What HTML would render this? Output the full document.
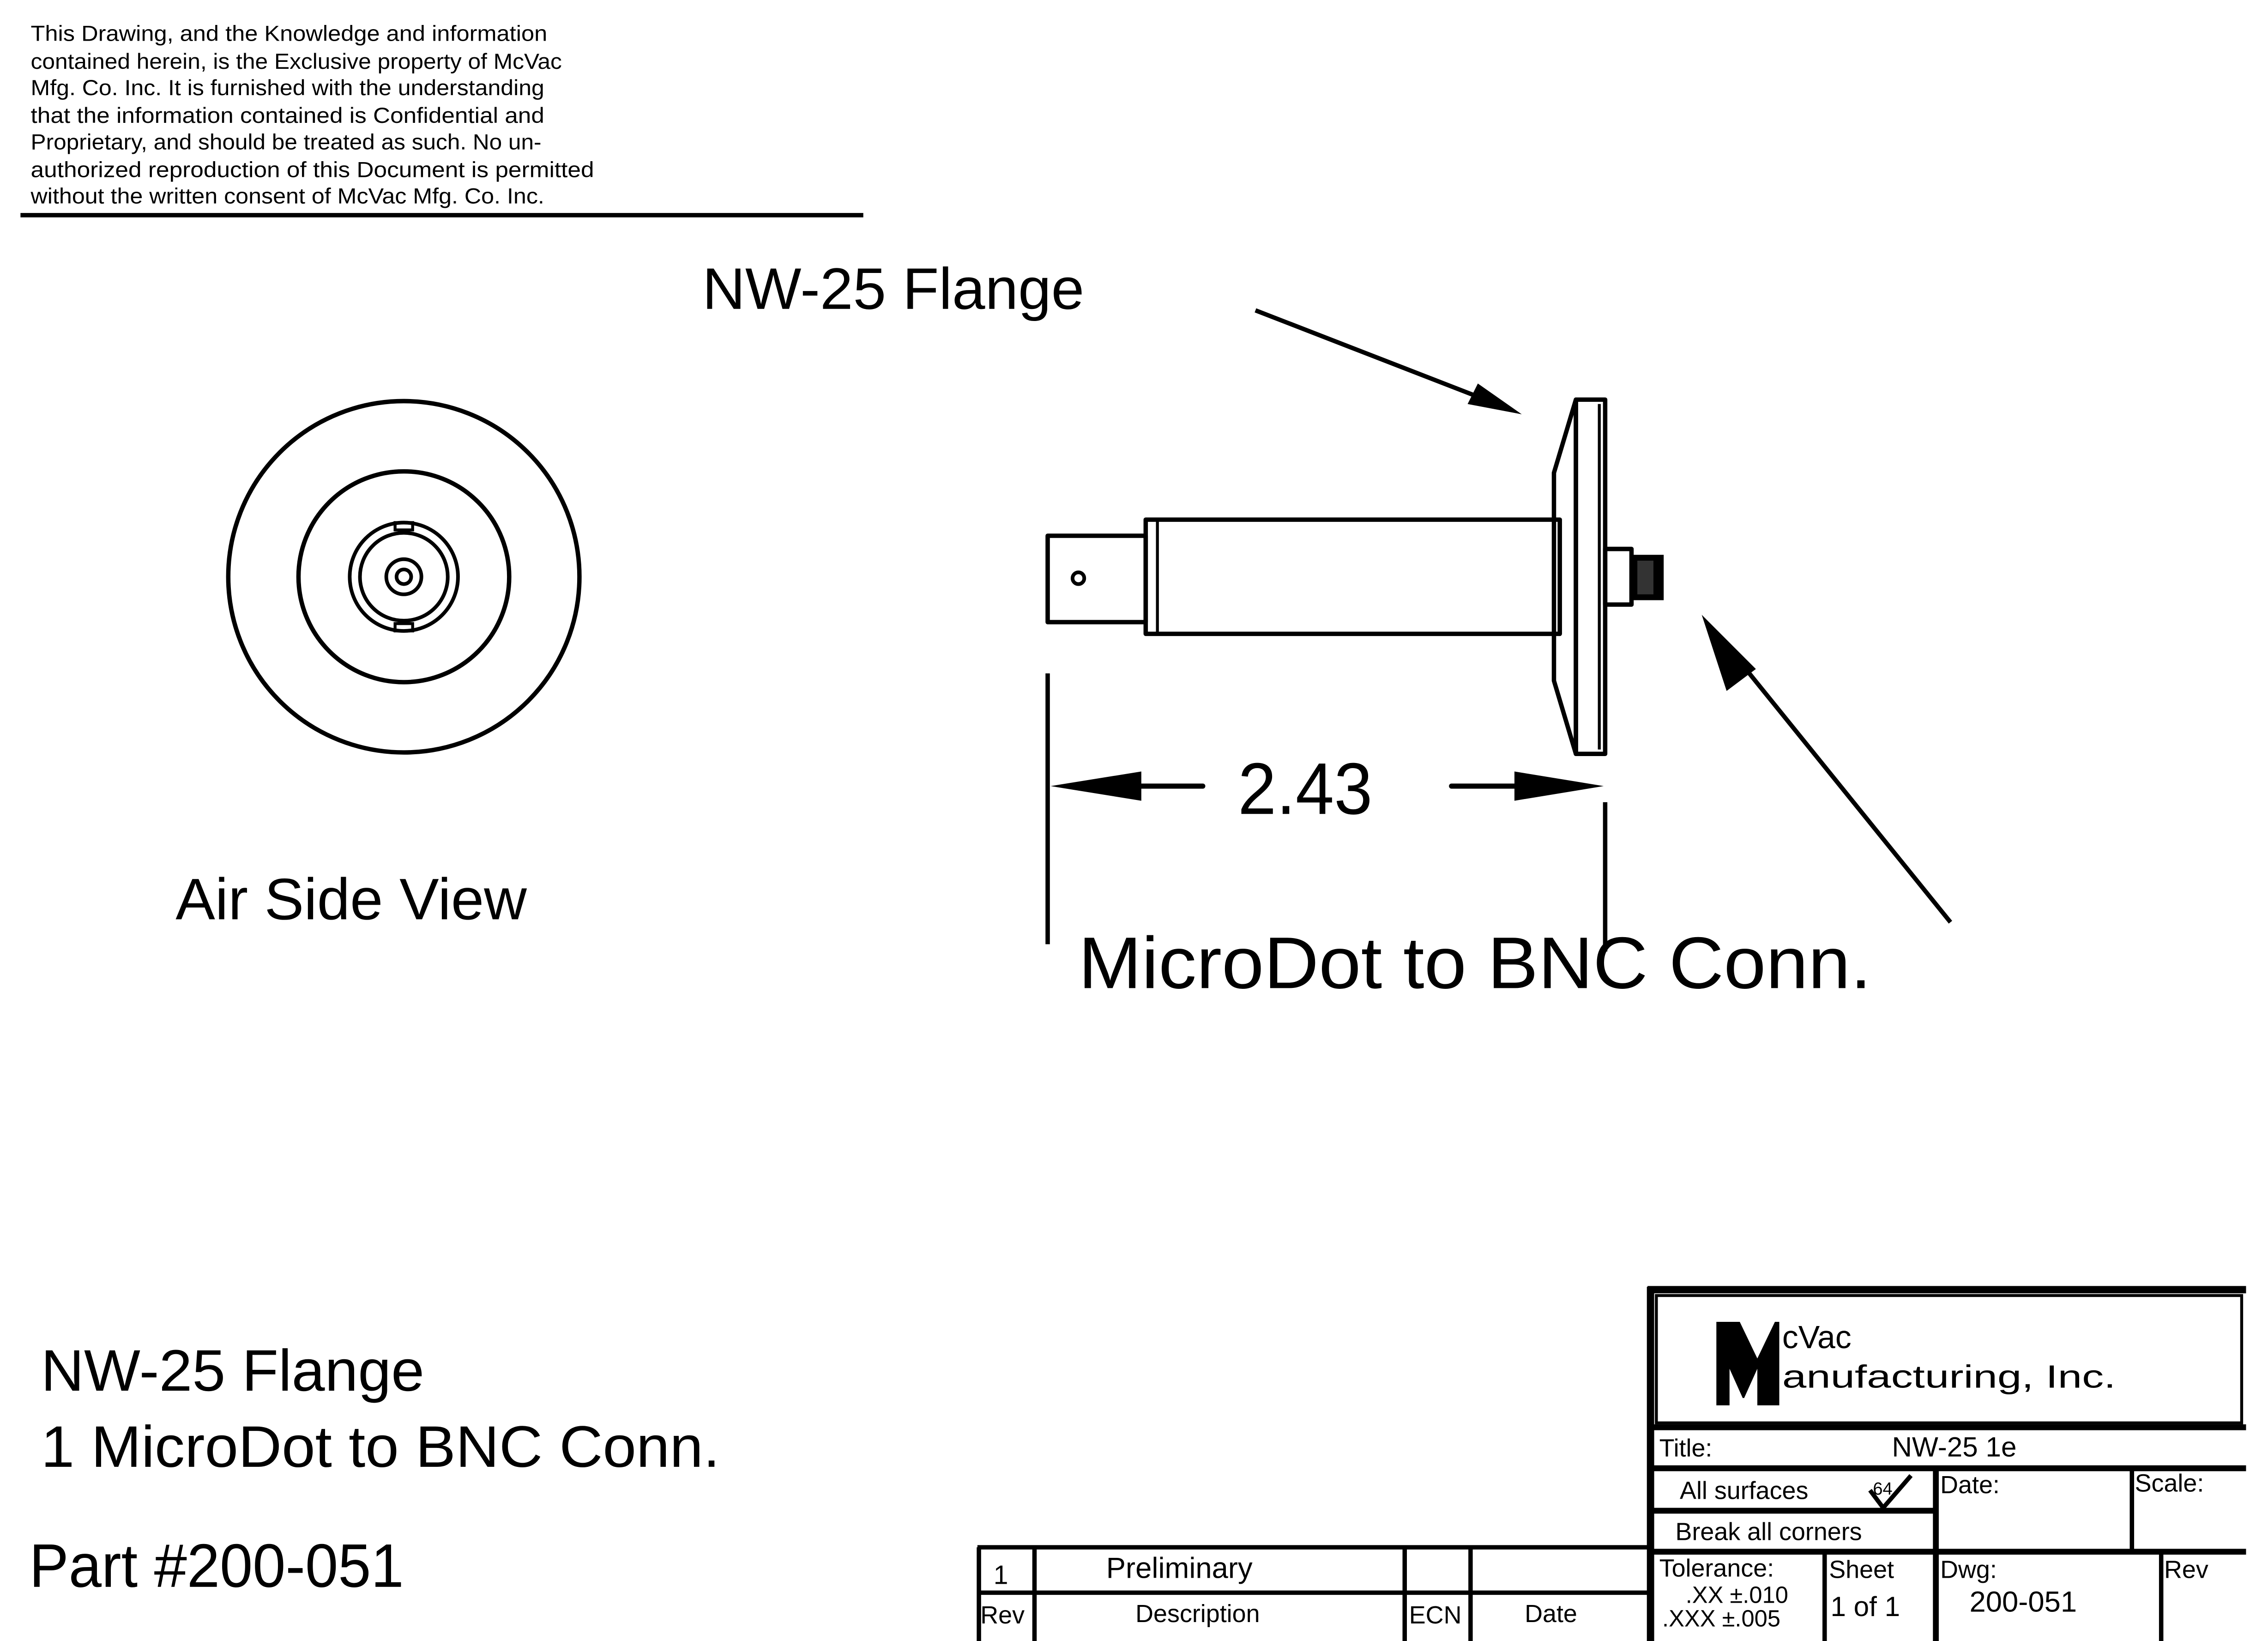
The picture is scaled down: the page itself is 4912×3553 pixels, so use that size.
<!DOCTYPE html>
<html><head><meta charset="utf-8"><style>html,body{margin:0;padding:0;background:#fff}svg{display:block}</style></head>
<body>
<svg xmlns="http://www.w3.org/2000/svg" width="4912" height="3553" viewBox="0 0 1550 1121" preserveAspectRatio="none" font-family="Liberation Sans, sans-serif" fill="#000">
<rect width="1550" height="1121" fill="#fff"/>
<g font-size="15" lengthAdjust="spacingAndGlyphs">
<text x="21" y="28" textLength="353" lengthAdjust="spacingAndGlyphs">This Drawing, and the Knowledge and information</text>
<text x="21" y="47" textLength="363" lengthAdjust="spacingAndGlyphs">contained herein, is the Exclusive property of McVac</text>
<text x="21" y="65" textLength="351" lengthAdjust="spacingAndGlyphs">Mfg. Co. Inc. It is furnished with the understanding</text>
<text x="21" y="84" textLength="351" lengthAdjust="spacingAndGlyphs">that the information contained is Confidential and</text>
<text x="21" y="102" textLength="349" lengthAdjust="spacingAndGlyphs">Proprietary, and should be treated as such. No un-</text>
<text x="21" y="121" textLength="385" lengthAdjust="spacingAndGlyphs">authorized reproduction of this Document is permitted</text>
<text x="21" y="139" textLength="351" lengthAdjust="spacingAndGlyphs">without the written consent of McVac Mfg. Co. Inc.</text>
</g>
<line x1="14" y1="147" x2="590" y2="147" stroke="#000" stroke-width="3"/>

<text x="480" y="211" font-size="40" textLength="261" lengthAdjust="spacingAndGlyphs">NW-25 Flange</text>

<!-- Air side view -->
<g fill="none" stroke="#000" stroke-width="3">
<circle cx="276" cy="394" r="120"/>
<circle cx="276" cy="394" r="72"/>
<circle cx="276" cy="394" r="37" stroke-width="2.5"/>
<circle cx="276" cy="394" r="30" stroke-width="2.5"/>
<circle cx="276" cy="394" r="12" stroke-width="2.5"/>
<circle cx="276" cy="394" r="5" stroke-width="2.5"/>
<rect x="270" y="357" width="12" height="5" stroke-width="2"/>
<rect x="270" y="426" width="12" height="5" stroke-width="2"/>
</g>
<text x="120" y="628" font-size="40" textLength="240" lengthAdjust="spacingAndGlyphs">Air Side View</text>

<!-- side view -->
<g fill="none" stroke="#000" stroke-width="3" stroke-linejoin="round">
<rect x="716" y="366" width="67" height="59"/>
<circle cx="737" cy="395" r="4" stroke-width="2.5"/>
<rect x="783" y="355" width="283" height="78"/>
<line x1="791" y1="355" x2="791" y2="433" stroke-width="2"/>
<polygon points="1062,323 1077,273 1077,515 1062,465"/>
<rect x="1077" y="273" width="20" height="242"/>
<line x1="1093" y1="276" x2="1093" y2="512" stroke-width="2"/>
<rect x="1097" y="375" width="18" height="38"/>
</g>
<rect x="1115" y="379" width="22" height="31" fill="#000"/>
<rect x="1119" y="383" width="11" height="23" fill="#333"/>

<!-- arrows -->
<line x1="858" y1="212" x2="1010" y2="271" stroke="#000" stroke-width="3"/>
<polygon points="1040,283 1003,276 1010,262" fill="#000"/>
<line x1="1333" y1="630" x2="1185" y2="447" stroke="#000" stroke-width="3"/>
<polygon points="1163,420 1200,457 1180,472" fill="#000"/>

<!-- dimension -->
<line x1="716" y1="460" x2="716" y2="645" stroke="#000" stroke-width="3"/>
<line x1="1097" y1="548" x2="1097" y2="650" stroke="#000" stroke-width="3"/>
<line x1="775" y1="537" x2="822" y2="537" stroke="#000" stroke-width="3.5" stroke-linecap="round"/>
<polygon points="718,537 780,527 780,547" fill="#000"/>
<line x1="992" y1="537" x2="1040" y2="537" stroke="#000" stroke-width="3.5" stroke-linecap="round"/>
<polygon points="1096,537 1035,527 1035,547" fill="#000"/>
<text x="846" y="556" font-size="50" textLength="92" lengthAdjust="spacingAndGlyphs">2.43</text>
<text x="737" y="675" font-size="50" textLength="542" lengthAdjust="spacingAndGlyphs">MicroDot to BNC Conn.</text>

<!-- bottom left -->
<text x="28" y="950" font-size="40" textLength="262" lengthAdjust="spacingAndGlyphs">NW-25 Flange</text>
<text x="28" y="1002" font-size="40" textLength="464" lengthAdjust="spacingAndGlyphs">1 MicroDot to BNC Conn.</text>
<text x="20" y="1084" font-size="42" textLength="256" lengthAdjust="spacingAndGlyphs">Part #200-051</text>

<!-- revision table -->
<g stroke="#000" stroke-width="3" fill="none">
<line x1="668" y1="1057" x2="1127" y2="1057"/>
<line x1="668" y1="1088" x2="1127" y2="1088"/>
<line x1="669" y1="1057" x2="669" y2="1121"/>
<line x1="707" y1="1057" x2="707" y2="1121"/>
<line x1="960" y1="1057" x2="960" y2="1121"/>
<line x1="1005" y1="1057" x2="1005" y2="1121"/>
</g>
<g font-size="18">
<text x="679" y="1082">1</text>
<text x="756" y="1078" font-size="20">Preliminary</text>
<text x="670" y="1109" font-size="17">Rev</text>
<text x="776" y="1108" font-size="17">Description</text>
<text x="963" y="1109" font-size="17">ECN</text>
<text x="1042" y="1108" font-size="17">Date</text>
</g>

<!-- title block -->
<g stroke="#000" fill="none">
<line x1="1128" y1="879" x2="1128" y2="1121" stroke-width="5"/>
<line x1="1126" y1="881" x2="1535" y2="881" stroke-width="5"/>
<rect x="1132" y="885" width="400" height="87" stroke-width="2"/>
<line x1="1128" y1="975" x2="1535" y2="975" stroke-width="4"/>
<line x1="1128" y1="1003" x2="1535" y2="1003" stroke-width="4"/>
<line x1="1128" y1="1032" x2="1323" y2="1032" stroke-width="4"/>
<line x1="1128" y1="1060" x2="1535" y2="1060" stroke-width="4"/>
<line x1="1323" y1="1003" x2="1323" y2="1121" stroke-width="4"/>
<line x1="1457" y1="1003" x2="1457" y2="1060" stroke-width="3"/>
<line x1="1247" y1="1060" x2="1247" y2="1121" stroke-width="3"/>
<line x1="1477" y1="1060" x2="1477" y2="1121" stroke-width="3"/>
<polyline points="1278,1018 1287,1030 1306,1008" stroke-width="3"/>
</g>
<path d="M1173,903 h16 l12,25 l12,-25 h3 v57 h-15 v-25 l-9,20 h-1 l-9,-20 v25 h-9 z" fill="#000"/>
<text x="1218" y="921" font-size="22">cVac</text>
<text x="1218" y="948" font-size="22" textLength="228" lengthAdjust="spacingAndGlyphs">anufacturing, Inc.</text>
<g font-size="17">
<text x="1134" y="995">Title:</text>
<text x="1293" y="995" font-size="19">NW-25 1e</text>
<text x="1148" y="1024">All surfaces</text>
<text x="1280" y="1021" font-size="12">64</text>
<text x="1145" y="1052">Break all corners</text>
<text x="1326" y="1020">Date:</text>
<text x="1459" y="1019">Scale:</text>
<text x="1134" y="1077">Tolerance:</text>
<text x="1152" y="1095" font-size="16">.XX  ±.010</text>
<text x="1136" y="1111" font-size="16">.XXX  ±.005</text>
<text x="1250" y="1078">Sheet</text>
<text x="1251" y="1104" font-size="19">1  of  1</text>
<text x="1326" y="1078">Dwg:</text>
<text x="1346" y="1101" font-size="20">200-051</text>
<text x="1479" y="1078">Rev</text>
</g>
</svg>
</body></html>
